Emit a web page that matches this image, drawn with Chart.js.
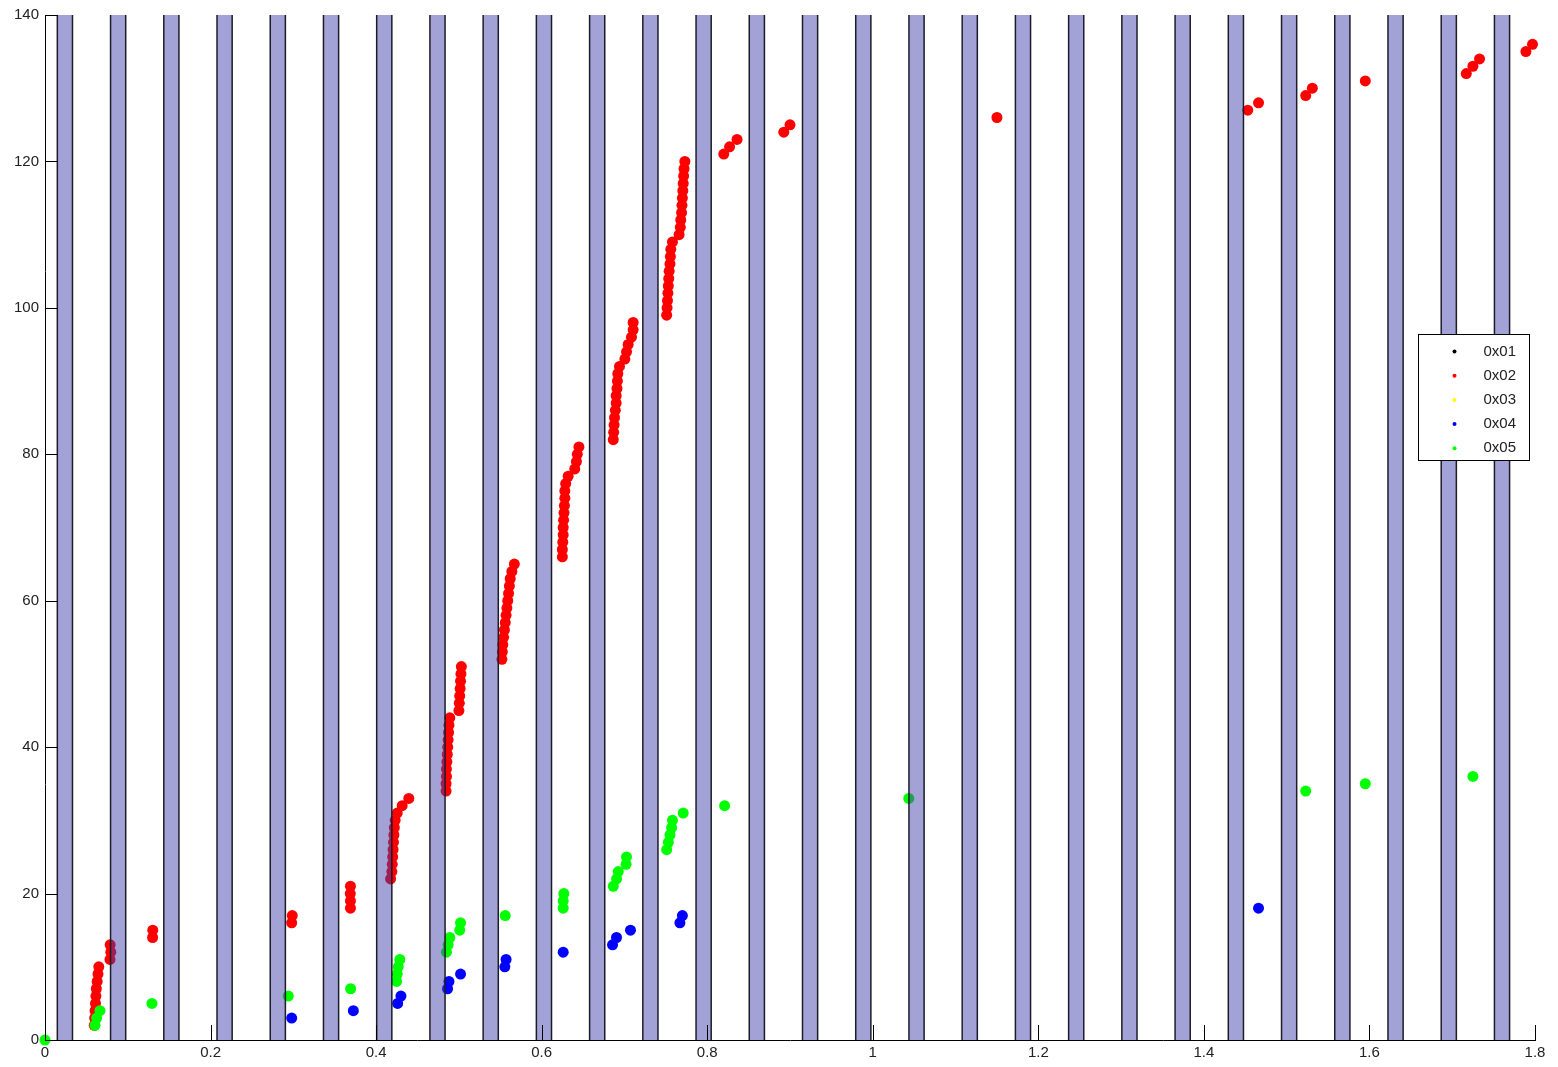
<!DOCTYPE html>
<html>
<head>
<meta charset="utf-8">
<script src="https://cdn.jsdelivr.net/npm/chart.js@4.4.1/dist/chart.umd.min.js"></script>
<style>
  body { margin: 0; background: #fff; }
</style>
</head>
<body>
<canvas id="packetChart" width="1558" height="1067"></canvas>
<script>
  // legend names + colours (0x01 .. 0x05)
  const seriesNames = ["0x01", "0x02", "0x03", "0x04", "0x05"];
  const seriesColors = ["#000000", "#ff0000", "#ffff00", "#0000ff", "#00ff00"];

  const xTicks = [0, 0.2, 0.4, 0.6, 0.8, 1, 1.2, 1.4, 1.6, 1.8];
  const xTickLabels = ["0", "0.2", "0.4", "0.6", "0.8", "1", "1.2", "1.4", "1.6", "1.8"];
  const yTicks = [0, 20, 40, 60, 80, 100, 120, 140];
  const yTickLabels = ["0", "20", "40", "60", "80", "100", "120", "140"];

  // shaded time windows
  const bandStart = [0.0149, 0.0792, 0.1435, 0.2078, 0.2721, 0.3364, 0.4007, 0.4650, 0.5293, 0.5936,
    0.6579, 0.7222, 0.7865, 0.8508, 0.9151, 0.9794, 1.0437, 1.1080, 1.1723, 1.2366,
    1.3009, 1.3652, 1.4295, 1.4938, 1.5581, 1.6224, 1.6867, 1.7510];
  const bandEnd = [0.0332, 0.0975, 0.1618, 0.2261, 0.2904, 0.3547, 0.4190, 0.4833, 0.5476, 0.6119,
    0.6762, 0.7405, 0.8048, 0.8691, 0.9334, 0.9977, 1.0620, 1.1263, 1.1906, 1.2549,
    1.3192, 1.3835, 1.4478, 1.5121, 1.5764, 1.6407, 1.7050, 1.7693];

  // 0x01 and 0x03 have no samples
  const t01 = [];
  const n01 = [];
  const t03 = [];
  const n03 = [];

  // 0x02 (red)
  const t02 = [0.0595, 0.0600, 0.0605, 0.0610, 0.0615, 0.0620, 0.0630, 0.0640, 0.0650,
    0.0785, 0.0795, 0.0787,
    0.1300, 0.1302,
    0.2980, 0.2987,
    0.3690, 0.3690, 0.3688, 0.3690,
    0.4175, 0.4190, 0.4195, 0.4200, 0.4205, 0.4210, 0.4215, 0.4220, 0.4230, 0.4255, 0.4315, 0.4395,
    0.4845, 0.4845, 0.4850, 0.4850, 0.4855, 0.4860, 0.4865, 0.4870, 0.4875, 0.4880, 0.4890,
    0.5000, 0.5005, 0.5010, 0.5015, 0.5020, 0.5025, 0.5030,
    0.5520, 0.5525, 0.5530, 0.5540, 0.5550, 0.5560, 0.5570, 0.5580, 0.5590, 0.5600, 0.5610, 0.5620, 0.5640, 0.5670,
    0.6250, 0.6250, 0.6255, 0.6260, 0.6260, 0.6265, 0.6270, 0.6275, 0.6280, 0.6280, 0.6290, 0.6320,
    0.6400, 0.6420, 0.6430, 0.6450,
    0.6865, 0.6870, 0.6875, 0.6880, 0.6890, 0.6900, 0.6900, 0.6910, 0.6915, 0.6920, 0.6940,
    0.7005, 0.7025, 0.7045, 0.7085, 0.7105, 0.7105,
    0.7510, 0.7515, 0.7520, 0.7525, 0.7530, 0.7535, 0.7540, 0.7550, 0.7555, 0.7560, 0.7580,
    0.7660, 0.7675, 0.7680, 0.7690, 0.7695, 0.7700, 0.7705, 0.7710, 0.7715, 0.7720, 0.7730,
    0.8200, 0.8270, 0.8360,
    0.8925, 0.9000,
    1.1500,
    1.4530, 1.4660,
    1.5230, 1.5310,
    1.5950,
    1.7170, 1.7250, 1.7330,
    1.7890, 1.7970];
  const n02 = [2, 3, 4, 5, 6, 7, 8, 9, 10,
    11, 12, 13,
    14, 15,
    16, 17,
    18, 19, 20, 21,
    22, 23, 24, 25, 26, 27, 28, 29, 30, 31, 32, 33,
    34, 35, 36, 37, 38, 39, 40, 41, 42, 43, 44,
    45, 46, 47, 48, 49, 50, 51,
    52, 53, 54, 55, 56, 57, 58, 59, 60, 61, 62, 63, 64, 65,
    66, 67, 68, 69, 70, 71, 72, 73, 74, 75, 76, 77,
    78, 79, 80, 81,
    82, 83, 84, 85, 86, 87, 88, 89, 90, 91, 92,
    93, 94, 95, 96, 97, 98,
    99, 100, 101, 102, 103, 104, 105, 106, 107, 108, 109,
    110, 111, 112, 113, 114, 115, 116, 117, 118, 119, 120,
    121, 122, 123,
    124, 125,
    126,
    127, 128,
    129, 130,
    131,
    132, 133, 134,
    135, 136];

  // 0x04 (blue)
  const t04 = [0.2980, 0.3725, 0.4260, 0.4300, 0.4863, 0.4880, 0.5020, 0.5555, 0.5570,
    0.6260, 0.6856, 0.6904, 0.7073, 0.7670, 0.7700, 1.4660];
  const n04 = [3, 4, 5, 6, 7, 8, 9, 10, 11, 12, 13, 14, 15, 16, 17, 18];

  // 0x05 (green)
  const t05 = [0, 0.0604, 0.0624, 0.0664, 0.1292, 0.2939, 0.3692,
    0.4247, 0.4255, 0.4267, 0.4287, 0.4850, 0.4870, 0.4890, 0.5010, 0.5020,
    0.5560, 0.6260, 0.6260, 0.6268, 0.6865, 0.6905, 0.6925, 0.7020, 0.7025,
    0.7510, 0.7530, 0.7550, 0.7570, 0.7580, 0.7710, 0.8210, 1.0435, 1.5230, 1.5950, 1.7250];
  const n05 = [0, 2, 3, 4, 5, 6, 7,
    8, 9, 10, 11, 12, 13, 14, 15, 16,
    17, 18, 19, 20, 21, 22, 23, 24, 25,
    26, 27, 28, 29, 30, 31, 32, 33, 34, 35, 36];

  const seriesT = [t01, t02, t03, t04, t05];
  const seriesN = [n01, n02, n03, n04, n05];
  // later series are drawn on top (lower order = on top)
  const seriesOrder = [5, 4, 3, 2, 1];

  const fontFamily = "'Liberation Sans', Arial, sans-serif";
  const edgeColor = "#1c1c28";

  const datasets = [];
  for (let s = 0; s < seriesNames.length; s++) {
    datasets.push({
      label: seriesNames[s],
      data: seriesT[s].map((t, i) => ({ x: t, y: seriesN[s][i] })),
      showLine: false,
      pointRadius: 5.5,
      pointHoverRadius: 5.5,
      pointBorderWidth: 0,
      backgroundColor: seriesColors[s],
      borderColor: seriesColors[s],
      clip: false,
      order: seriesOrder[s],
    });
  }
  for (let b = 0; b < bandStart.length; b++) {
    datasets.push({
      label: "band",
      data: [
        { x: bandStart[b], y: 0 },
        { x: bandStart[b], y: 140 },
        { x: bandEnd[b], y: 140 },
        { x: bandEnd[b], y: 0 },
      ],
      pointRadius: 0,
      borderWidth: 1.5,
      borderColor: edgeColor,
      backgroundColor: "rgba(60, 60, 170, 0.48)",
      fill: "origin",
      tension: 0,
      segment: {
        borderColor: (ctx) => (ctx.p0DataIndex === 1 ? "rgba(0,0,0,0)" : edgeColor),
      },
      order: 0,
    });
  }

  // ticks pointing into the plot + the boxed legend on top of everything
  const overlayPlugin = {
    id: "overlay",
    afterDraw(chart) {
      const ctx = chart.ctx;
      const area = chart.chartArea;
      const xs = chart.scales.x;
      const ys = chart.scales.y;
      ctx.save();
      ctx.strokeStyle = "#000";
      ctx.lineWidth = 1;
      ctx.beginPath();
      xTicks.forEach((v) => {
        const px = Math.round(xs.getPixelForValue(v)) + 0.5;
        ctx.moveTo(px, area.bottom);
        ctx.lineTo(px, area.bottom - 15);
      });
      yTicks.forEach((v) => {
        const py = Math.round(ys.getPixelForValue(v)) + 0.5;
        ctx.moveTo(area.left, py);
        ctx.lineTo(area.left + 13, py);
      });
      ctx.stroke();

      // legend box
      const boxW = 111;
      const boxH = 126;
      const bx = Math.round(area.right - 117) + 0.5;
      const by = Math.round(area.top + 319) + 0.5;
      ctx.fillStyle = "#fff";
      ctx.fillRect(bx, by, boxW, boxH);
      ctx.strokeStyle = "#000";
      ctx.strokeRect(bx, by, boxW, boxH);
      ctx.font = "15px " + fontFamily;
      ctx.textBaseline = "middle";
      ctx.textAlign = "left";
      seriesNames.forEach((name, i) => {
        const ry = by + 17 + i * 24.2;
        ctx.fillStyle = seriesColors[i];
        ctx.beginPath();
        ctx.arc(bx + 36, ry, 2, 0, Math.PI * 2);
        ctx.fill();
        ctx.fillStyle = "#222";
        ctx.fillText(name, bx + 65, ry);
      });
      ctx.restore();
    },
  };

  const ctx = document.getElementById("packetChart").getContext("2d");
  const packetChart = new Chart(ctx, {
    type: "line",
    data: { datasets: datasets },
    options: {
      responsive: false,
      animation: false,
      layout: { padding: { top: 13, right: 23, left: 0, bottom: 0 } },
      plugins: {
        legend: { display: false },
        tooltip: { enabled: false },
      },
      scales: {
        x: {
          type: "linear",
          min: 0,
          max: 1.8,
          afterBuildTicks: (scale) => {
            scale.ticks = xTicks.map((v) => ({ value: v }));
          },
          afterFit: (scale) => {
            scale.height = 27;
          },
          grid: { display: false, drawTicks: false },
          border: { display: true, color: "#000", width: 1 },
          ticks: {
            autoSkip: false,
            maxRotation: 0,
            padding: 4,
            color: "#222",
            font: { family: fontFamily, size: 15 },
            callback: (v, i) => xTickLabels[i],
          },
        },
        y: {
          type: "linear",
          min: 0,
          max: 140,
          afterBuildTicks: (scale) => {
            scale.ticks = yTicks.map((v) => ({ value: v }));
          },
          afterFit: (scale) => {
            scale.width = 45;
          },
          grid: { display: false, drawTicks: false },
          border: { display: true, color: "#000", width: 1 },
          ticks: {
            padding: 6,
            color: "#222",
            font: { family: fontFamily, size: 15 },
            callback: (v, i) => yTickLabels[i],
          },
        },
      },
    },
    plugins: [overlayPlugin],
  });
</script>
</body>
</html>
